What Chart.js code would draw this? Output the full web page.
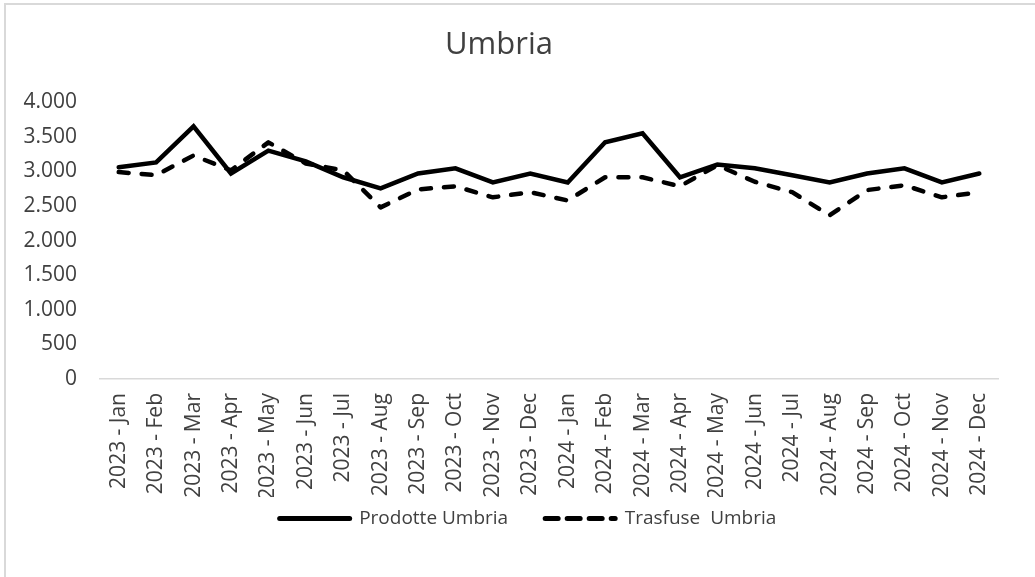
<!DOCTYPE html>
<html>
<head>
<meta charset="utf-8">
<script src="https://cdn.jsdelivr.net/npm/chart.js@4.4.1/dist/chart.umd.min.js"></script>
<style>
    body { margin: 0; background: #fff; overflow: hidden; }
    #frame {
        position: absolute; left: 4px; top: 3px;
        width: 2000px; height: 2000px;
        border: 2px solid #d9d9d9;
    }
    #priceChart { position: absolute; left: 0; top: 0; }
</style>
</head>
<body>
<div id="frame"></div>
<canvas id="priceChart" width="1035" height="577"></canvas>
<script>
const months = ['Jan', 'Feb', 'Mar', 'Apr', 'May', 'Jun', 'Jul', 'Aug', 'Sep', 'Oct', 'Nov', 'Dec'];
const years = ['2023', '2024'];

const labels = [];
years.forEach(y => months.forEach(m => labels.push(`${y} - ${m}`)));

const prodotte = [
    3060, 3130, 3650, 2970, 3300, 3145, 2915, 2755, 2970, 3045, 2840, 2970,
    2840, 3420, 3550, 2915, 3100, 3045, 2945, 2840, 2970, 3045, 2840, 2970
];

const trasfuse = [
    2990, 2945, 3230, 3015, 3420, 3115, 3015, 2480, 2740, 2785, 2625, 2700,
    2580, 2915, 2915, 2785, 3090, 2850, 2700, 2365, 2730, 2800, 2625, 2700
];

const yTicks = [0, 500, 1000, 1500, 2000, 2500, 3000, 3500, 4000];

const textColor = '#404040';
const fontFamily = '"Open Sans", sans-serif';

// 1.000 style thousands
function fmt(v) {
    return String(v).replace(/\B(?=(\d{3})+(?!\d))/g, '.');
}

// legend sits a bit right of centre and closer to the labels in the original
const legendShift = {
    id: 'legendShift',
    afterLayout(chart) {
        const lg = chart.legend;
        lg.left += 29;
        lg.right += 29;
        lg.top -= 25;
        lg.bottom -= 25;
    }
};

const ctx = document.getElementById('priceChart').getContext('2d');

const chart = new Chart(ctx, {
    type: 'line',
    data: {
        labels,
        datasets: [
            {
                label: 'Prodotte Umbria',
                data: prodotte,
                borderColor: '#000',
                borderWidth: 4.5,
                borderCapStyle: 'round',
                borderJoinStyle: 'miter',
                pointRadius: 0,
                tension: 0
            },
            {
                label: 'Trasfuse  Umbria',
                data: trasfuse,
                borderColor: '#000',
                borderWidth: 4.5,
                borderDash: [10, 13],
                borderCapStyle: 'round',
                borderJoinStyle: 'round',
                pointRadius: 0,
                tension: 0
            }
        ]
    },
    plugins: [legendShift],
    options: {
        responsive: false,
        animation: false,
        layout: { padding: { left: 0, right: 37, top: 0, bottom: 14 } },
        scales: {
            x: {
                offset: true,
                grid: { display: false, drawTicks: false },
                border: { display: true, color: '#d9d9d9', width: 1.5 },
                ticks: {
                    autoSkip: false,
                    maxRotation: 90,
                    minRotation: 90,
                    padding: 14,
                    color: textColor,
                    font: { family: fontFamily, size: 21 }
                },
                afterFit: scale => { scale.height = 118; }
            },
            y: {
                min: 0,
                max: 4000,
                afterBuildTicks: scale => {
                    scale.ticks = yTicks.map(v => ({ value: v }));
                },
                grid: { display: false, drawTicks: false },
                border: { display: false },
                ticks: {
                    padding: 23,
                    color: textColor,
                    font: { family: fontFamily, size: 21 },
                    callback: v => fmt(v)
                },
                afterFit: scale => { scale.width = 100; }
            }
        },
        plugins: {
            title: {
                display: true,
                text: 'Umbria',
                color: textColor,
                font: { family: fontFamily, size: 31, weight: 'normal' },
                padding: { top: 27, bottom: 38 }
            },
            tooltip: { enabled: false },
            legend: {
                position: 'bottom',
                labels: {
                    color: textColor,
                    font: { family: fontFamily, size: 19 },
                    usePointStyle: true,
                    pointStyleWidth: 70,
                    padding: 37,
                    generateLabels: c => c.data.datasets.map((ds, i) => ({
                        text: ds.label,
                        datasetIndex: i,
                        fillStyle: '#000',
                        strokeStyle: '#000',
                        lineWidth: 5,
                        lineCap: 'round',
                        lineDash: i === 1 ? [13, 9] : [],
                        pointStyle: 'line',
                        fontColor: textColor
                    }))
                }
            }
        }
    }
});
</script>
</body>
</html>
